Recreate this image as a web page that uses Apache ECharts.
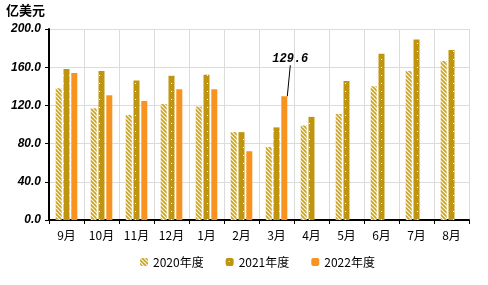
<!DOCTYPE html>
<html><head><meta charset="utf-8">
<script src="https://cdn.jsdelivr.net/npm/echarts@6/dist/echarts.min.js"></script>
<style>html,body{margin:0;padding:0;background:#fff}#c{width:488px;height:285px}</style>
</head><body><div id="c"></div>
<script>
const categories = ['9月','10月','11月','12月','1月','2月','3月','4月','5月','6月','7月','8月'];
const fy2020 = [138, 117, 110, 121.5, 118.7, 92, 76.4, 99, 111, 140, 156, 166.5];
const fy2021 = [158, 156, 146, 151, 152, 92, 97, 108, 145.5, 174, 189, 178];
const fy2022 = [154, 130.6, 124.6, 137, 137, 72, 129.6, null, null, null, null, null];
const yTicks = [0, 40, 80, 120, 160, 200];

function stripePattern() {
  const c = document.createElement('canvas');
  c.width = 4; c.height = 4;
  const g = c.getContext('2d');
  g.fillStyle = '#FFF8D8'; g.fillRect(0,0,4,4);
  g.strokeStyle = '#C9A227'; g.lineWidth = 1.6;
  g.beginPath();
  g.moveTo(-1,1); g.lineTo(3,5);
  g.moveTo(1,-1); g.lineTo(5,3);
  g.stroke();
  return {image: c, repeat: 'repeat'};
}
function dotPattern() {
  const c = document.createElement('canvas');
  c.width = 6; c.height = 8;
  const g = c.getContext('2d');
  g.fillStyle = '#BF9510'; g.fillRect(0,0,6,8);
  g.fillStyle = '#FFFFFF'; g.fillRect(3,3,1,1);
  return {image: c, repeat: 'repeat'};
}

const chart = echarts.init(document.getElementById('c'));
const lbl2022 = fy2022.map((v, i) => i === 6 ? {
  value: v,
  label: {show: true, position: 'top', formatter: '{c}', fontFamily: 'Liberation Mono, DejaVu Sans Mono, monospace',
    fontStyle: 'italic', fontWeight: 'bold', fontSize: 12, color: '#000'},
  labelLine: {show: true, lineStyle: {color: '#000', width: 1}}
} : v);

chart.setOption({
  animation: false,
  grid: {left: 49, right: 19, top: 29, bottom: 65},
  graphic: [{type: 'text', left: 6, top: 4, style: {text: '亿美元', font: 'bold 13px "Noto Sans CJK SC"', fill: '#000'}}],
  legend: {
    bottom: 12, left: 135, itemWidth: 8, itemHeight: 8, itemGap: 22,
    textStyle: {fontSize: 12, color: '#000', fontFamily: 'Noto Sans CJK SC'},
    data: ['2020年度', '2021年度', '2022年度']
  },
  xAxis: {
    type: 'category', data: categories, boundaryGap: true,
    axisLine: {lineStyle: {color: '#000', width: 2}},
    axisTick: {show: true, length: 4, lineStyle: {color: '#000'}},
    axisLabel: {color: '#000', fontSize: 12, margin: 9, fontFamily: 'Noto Sans CJK SC'},
    splitLine: {show: true, lineStyle: {color: '#DCDCDC'}}
  },
  yAxis: {
    type: 'value', min: 0, max: 200, interval: 40,
    axisLine: {show: true, lineStyle: {color: '#000', width: 2}},
    axisTick: {show: true, length: 4, lineStyle: {color: '#000'}},
    axisLabel: {color: '#000', fontSize: 12, fontWeight: 'bold', fontStyle: 'italic',
      fontFamily: 'Liberation Sans, Arial', formatter: v => v.toFixed(1), margin: 8},
    splitLine: {show: true, lineStyle: {color: '#DCDCDC'}}
  },
  series: [
    {name: '2020年度', type: 'bar', data: fy2020, barWidth: 6, barGap: '30%', itemStyle: {color: stripePattern()}},
    {name: '2021年度', type: 'bar', data: fy2021, barWidth: 6, barGap: '30%', itemStyle: {color: dotPattern()}},
    {name: '2022年度', type: 'bar', data: lbl2022, barWidth: 6, barGap: '30%', itemStyle: {color: '#F7931E'},
      labelLayout: {dx: 6, dy: -26}}
  ]
});
</script></body></html>
